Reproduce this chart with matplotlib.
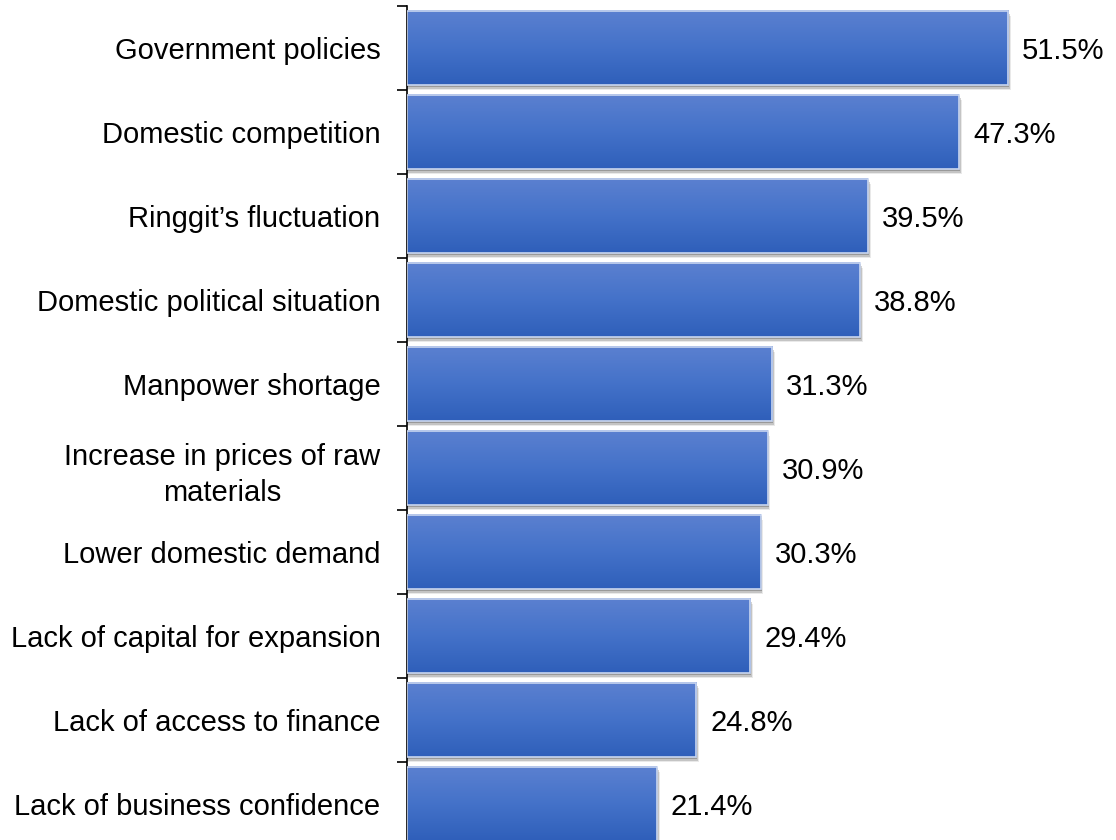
import numpy as np
import matplotlib.pyplot as plt
from matplotlib.colors import LinearSegmentedColormap
from matplotlib.patches import Rectangle

plt.rcParams['font.family'] = ['Liberation Sans', 'DejaVu Sans']

categories = [
    'Government policies',
    'Domestic competition',
    'Ringgit\u2019s fluctuation',
    'Domestic political situation',
    'Manpower shortage',
    'Increase in prices of raw\nmaterials',
    'Lower domestic demand',
    'Lack of capital for expansion',
    'Lack of access to finance',
    'Lack of business confidence',
]
values = [51.5, 47.3, 39.5, 38.8, 31.3, 30.9, 30.3, 29.4, 24.8, 21.4]

fig = plt.figure(figsize=(11.16, 8.4), dpi=100)
# axis spine sits at x=407px, first category boundary at y=6px, 84px per slot
ax = fig.add_axes([407 / 1116, (840 - 846) / 840, (1116 - 407) / 1116, 840 / 840])

n = len(categories)
xmax = (1116 - 407) / 11.67

grad = LinearSegmentedColormap.from_list('bar', ['#5b80d0', '#4472c9', '#2f5fba'])
gimg = np.linspace(0, 1, 64).reshape(-1, 1)
bh = 0.89

for i, v in enumerate(values):
    y0 = i + (1 - bh) / 2
    # soft drop shadow under each bar
    for k, a in enumerate([0.5, 0.3, 0.15]):
        ax.add_patch(Rectangle((0, y0 + 0.02 * (k + 1)), v + 0.08 * (k + 1), bh,
                               facecolor='#707070', alpha=a, edgecolor='none', zorder=1))
    ax.imshow(gimg, cmap=grad, aspect='auto', extent=(0, v, y0 + bh, y0),
              interpolation='bilinear', zorder=2)
    ax.add_patch(Rectangle((0, y0), v, bh, facecolor='none', edgecolor='#c9d6f0',
                           linewidth=1.2, zorder=3))
    ax.text(v + 1.2, i + 0.5, f'{v:.1f}%', va='center_baseline', ha='left', fontsize=21)

ax.set_xlim(0, xmax)
ax.set_ylim(n, 0)

ax.set_yticks(np.arange(0, n + 1))
ax.set_yticklabels([])
ax.set_yticks(np.arange(n) + 0.5, minor=True)
ax.set_yticklabels(categories, minor=True, fontsize=21, ha='right',
                   multialignment='center', linespacing=1.35)
ax.tick_params(axis='y', which='major', length=7, width=1.2, direction='out')
ax.tick_params(axis='y', which='minor', length=0, pad=19)
ax.set_xticks([])
for s in ['top', 'right', 'bottom']:
    ax.spines[s].set_visible(False)
ax.spines['left'].set_linewidth(1.2)

fig.savefig('out.png', dpi=100)
